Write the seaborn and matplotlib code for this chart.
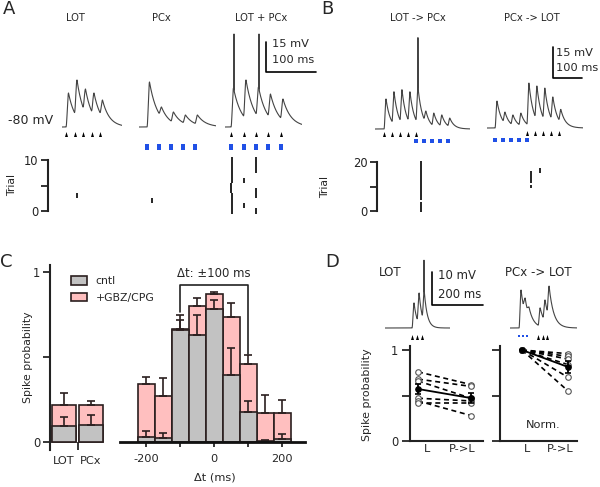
import numpy as np
import pandas as pd
import matplotlib
matplotlib.use('Agg')
import matplotlib.pyplot as plt
import seaborn as sns
from matplotlib.patches import Patch

# ---------------- data ----------------
# A: traces, ms from first stimulus, mV above -80 mV rest
A_LOT_ON = [0, 17, 34, 51, 68]
A_LOT_PK = [17, 23.5, 19, 17, 13.5]
A_PCX_ON = [0, 24, 48, 72, 96]
A_PCX_PK = [22.5, 10, 7.5, 6, 6]
A_BOTH_ON = [0, 25, 50, 74, 99]
A_BOTH_PK = [19.5, 23.5, 20, 16.5, 14]
A_BOTH_SPIKES = [6, 56]
A_SPIKE_MV = 46.5

# A rasters (spike time ms, trial)
A_LOT_RT = [22]
A_LOT_TRIAL = [3]
A_PCX_RT = [10]
A_PCX_TRIAL = [2]
A_BOTH_RT = [2, 2, 2, 2, 0, 0, 2, 2, 2, 2, 2, 26, 26, 50, 50, 50, 50, 50, 50]
A_BOTH_TRIAL = [0, 1, 2, 3, 4, 5, 6, 7, 8, 9, 10, 1, 6, 0, 3, 4, 8, 9, 10]

# B: LOT -> PCx and PCx -> LOT
B_LP_LOT_ON = [0, 27.5, 55, 82.5, 110]
B_LP_PCX_ON = [110, 137.5, 165, 192.5, 220]
B_LP_PK = [14.5, 18, 19, 18, 20.3, 8.7, 7.7, 6.8, 5.3]
B_LP_SPIKES = [117]
B_PL_PCX_ON = [0, 27.5, 55, 82.5, 110]
B_PL_LOT_ON = [110, 137.5, 165, 192.5, 220]
B_PL_PK = [13, 7.7, 6.3, 7.2, 21.7, 20.3, 19.3, 15, 9]
B_SPIKE_MV = 45

B_LP_RT = [128] * 20
B_LP_TRIAL = [0, 1, 2, 3] + list(range(5, 21))
B_PL_RT = [124, 124, 124, 124, 124, 124, 155, 155]
B_PL_TRIAL = [10, 12, 13, 14, 15, 16, 16, 17]

# C: spike probability
SRC = ['LOT', 'PCx']
SRC_CNTL = [0.095, 0.098]
SRC_CNTL_ERR = [0.052, 0.062]
SRC_GBZ = [0.216, 0.216]
SRC_GBZ_ERR = [0.072, 0.025]

DT = [-200, -150, -100, -50, 0, 50, 100, 150, 200]
DT_CNTL = [0.03, 0.024, 0.657, 0.627, 0.78, 0.392, 0.176, 0.006, 0.02]
DT_CNTL_ERR = [0.035, 0.029, 0.063, 0.123, 0.057, 0.161, 0.064, 0.004, 0.025]
DT_GBZ = [0.34, 0.27, 0.667, 0.80, 0.873, 0.735, 0.457, 0.17, 0.17]
DT_GBZ_ERR = [0.04, 0.108, 0.078, 0.047, 0.007, 0.083, 0.057, 0.108, 0.08]

# D: traces
D_LOT_ON = [0, 20, 40]
D_LOT_PK = [7.6, 10.6, 11.2]
D_LOT_SPIKES = [47]
D_SPIKE_MV = 21
D_PL_PCX_ON = [0, 16, 31]
D_PL_LOT_ON = [75, 94, 110]
D_PL_PK = [11.5, 9.1, 6.4, 6.1, 8.5, 12.7]

# D: paired spike probabilities per cell
D_CELL = [1, 2, 3, 4, 5, 6]
D_RAW_L = [0.76, 0.68, 0.66, 0.47, 0.44, 0.42]
D_RAW_PL = [0.62, 0.60, 0.47, 0.44, 0.28, 0.42]
D_NORM_L = [1.0, 1.0, 1.0, 1.0, 1.0, 1.0]
D_NORM_PL = [0.96, 0.93, 0.90, 0.84, 0.70, 0.55]

# ---------------- style ----------------
sns.set_style('white')
plt.rcParams['font.family'] = ['DejaVu Sans']

TRACE_C = '#444444'
BLUE = '#2050e6'
PINK = '#ffbfbf'
GRAY = '#c2c2c2'
EDGE = '#2b1f1f'

W, H = 600, 487
fig = plt.figure(figsize=(6, 4.87), dpi=100)

ARROW = [(-0.6, -1), (0.6, -1), (0, 1)]
TALL = [(-0.55, -1), (0.55, -1), (0.55, 1), (-0.55, 1)]
SQUARE = [(-1, -1), (1, -1), (1, 1), (-1, 1)]


def px_ax(box):
    x0, y0, x1, y1 = box
    return fig.add_axes([x0 / W, 1 - y1 / H, (x1 - x0) / W, (y1 - y0) / H])


def lims(box, xref, pxx, yref, pxy):
    x0, y0, x1, y1 = box
    xl = ((x0 - xref[0]) / pxx + xref[1], (x1 - xref[0]) / pxx + xref[1])
    yl = ((yref[0] - y1) / pxy + yref[1], (yref[0] - y0) / pxy + yref[1])
    return xl, yl


def mapped_ax(box, xref, pxx, yref, pxy):
    ax = px_ax(box)
    xl, yl = lims(box, xref, pxx, yref, pxy)
    ax.set_xlim(xl)
    ax.set_ylim(yl)
    ax.patch.set_visible(False)
    return ax


def ftext(x, y, s, **kw):
    kw.setdefault('ha', 'center')
    kw.setdefault('va', 'center')
    return fig.text(x / W, 1 - y / H, s, **kw)


def psp_trace(t, onsets, peaks, rise, tau):
    v = np.zeros_like(t)
    for i, (t0, pk) in enumerate(zip(onsets, peaks)):
        t1 = onsets[i + 1] if i + 1 < len(onsets) else np.inf
        v0 = 0.0 if i == 0 else peaks[i - 1] * np.exp(-(t0 - onsets[i - 1] - rise) / tau)
        m = (t >= t0) & (t < t1)
        tt = t[m] - t0
        up = v0 + (pk - v0) * np.sin(0.5 * np.pi * np.minimum(tt / rise, 1)) ** 2
        down = pk * np.exp(-(tt - rise) / tau)
        v[m] = np.where(tt < rise, up, down)
    return v


def draw_trace(box, x_stim, base, px_ms, px_mv, onsets, peaks, rise, tau,
               spikes=(), spike_mv=0):
    ax = mapped_ax(box, (x_stim, 0), px_ms, (base, 0), px_mv)
    ax.axis('off')
    t = np.arange(ax.get_xlim()[0], ax.get_xlim()[1], 0.05)
    v = psp_trace(t, onsets, peaks, rise, tau)
    for ts in spikes:
        v = np.maximum(v, spike_mv * np.clip(1 - np.abs(t - ts) / 0.8, 0, None))
    ax.plot(t, v, color=TRACE_C, lw=0.8)
    return ax


def stim_marks(ax, times, y_px, px_mv, marker, ms, color):
    ax.plot(times, [-y_px / px_mv] * len(times), ls='none', marker=marker,
            ms=ms, mew=0, color=color, clip_on=False)


def raster(x0, x1, x_stim, px_ms, times, trials, y_zero, px_trial):
    ax = mapped_ax((x0, 150, x1, 220), (x_stim, 0), px_ms, (y_zero, 0), px_trial)
    ax.axis('off')
    tr = np.array(trials, dtype=float)
    ax.vlines(times, tr - 0.5, tr + 0.5, color='k', lw=1.2)


def trial_axis(x, y_zero, px_trial, top, label_x):
    ax = mapped_ax((x, 150, x + 10, 220), (x, 0), 1, (y_zero, 0), px_trial)
    for s in ['top', 'right', 'bottom']:
        ax.spines[s].set_visible(False)
    ax.spines['left'].set_bounds(0, top)
    ax.spines['left'].set_linewidth(1.5)
    ax.spines['left'].set_color('#222222')
    ax.set_xticks([])
    ax.set_yticks([0, top / 2, top])
    ax.set_yticklabels(['0', '', str(top)])
    ax.tick_params(axis='y', length=5, width=1.3, pad=2, labelsize=8.3,
                   colors='#222222', left=True)
    ftext(label_x, y_zero - top * px_trial / 2, 'Trial', rotation=90, fontsize=7.8)


# ---------------- A ----------------
PX_MS_A, PX_MV_A, BASE_A = 0.5, 2.0, 127
ax = draw_trace((62, 27, 122, 152), 66, BASE_A, PX_MS_A, PX_MV_A,
                A_LOT_ON, A_LOT_PK, 5, 14)
stim_marks(ax, A_LOT_ON, 7, PX_MV_A, ARROW, 3.6, 'k')
ax = draw_trace((139, 27, 216, 152), 147, BASE_A, PX_MS_A, PX_MV_A,
                A_PCX_ON, A_PCX_PK, 5, 16)
stim_marks(ax, A_PCX_ON, 19.5, PX_MV_A, TALL, 4.3, BLUE)
ax = draw_trace((225, 27, 302, 152), 231, BASE_A, PX_MS_A, PX_MV_A,
                A_BOTH_ON, A_BOTH_PK, 5, 16, A_BOTH_SPIKES, A_SPIKE_MV)
stim_marks(ax, A_BOTH_ON, 7, PX_MV_A, ARROW, 3.6, 'k')
stim_marks(ax, A_BOTH_ON, 19.5, PX_MV_A, TALL, 4.3, BLUE)
# scale bar 15 mV / 100 ms
ax.plot([70, 70, 170], [42.5, 27.5, 27.5], color='k', lw=1.2, clip_on=False)
ax.text(81, 41.5, '15 mV', fontsize=8.2, va='center', clip_on=False)
ax.text(81, 33.5, '100 ms', fontsize=8.2, va='center', clip_on=False)

raster(62, 122, 66, PX_MS_A, A_LOT_RT, A_LOT_TRIAL, 211, 5.1)
raster(139, 216, 147, PX_MS_A, A_PCX_RT, A_PCX_TRIAL, 211, 5.1)
raster(225, 302, 231, PX_MS_A, A_BOTH_RT, A_BOTH_TRIAL, 211, 5.1)
trial_axis(48, 211, 5.1, 10, 12)

ftext(75, 18, 'LOT', fontsize=7.2)
ftext(161, 18, 'PCx', fontsize=7.2)
ftext(261, 18, 'LOT + PCx', fontsize=7.2)
ftext(53, 120, '-80 mV', ha='right', fontsize=9)

# ---------------- B ----------------
PX_MS_B, PX_MV_B = 0.29, 2.07
lp_on = sorted(set(B_LP_LOT_ON + B_LP_PCX_ON))
ax = draw_trace((375, 29, 470, 154), 384, 129, PX_MS_B, PX_MV_B,
                lp_on, B_LP_PK, 7, 15, B_LP_SPIKES, B_SPIKE_MV)
stim_marks(ax, B_LP_LOT_ON, 5, PX_MV_B, ARROW, 3.6, 'k')
stim_marks(ax, B_LP_PCX_ON, 12, PX_MV_B, SQUARE, 2.3, BLUE)

pl_on = sorted(set(B_PL_PCX_ON + B_PL_LOT_ON))
ax = draw_trace((487, 28, 583, 153), 495, 128, PX_MS_B, PX_MV_B,
                pl_on, B_PL_PK, 7, 16)
stim_marks(ax, B_PL_LOT_ON, 5, PX_MV_B, ARROW, 3.6, 'k')
stim_marks(ax, B_PL_PCX_ON, 12, PX_MV_B, SQUARE, 2.3, BLUE)
ax.plot([200, 200, 300], [39.2, 24.2, 24.2], color='k', lw=1.2, clip_on=False)
ax.text(210, 36.2, '15 mV', fontsize=8.2, va='center', clip_on=False)
ax.text(210, 29, '100 ms', fontsize=8.2, va='center', clip_on=False)

raster(375, 470, 384, PX_MS_B, B_LP_RT, B_LP_TRIAL, 211, 2.45)
raster(487, 583, 495, PX_MS_B, B_PL_RT, B_PL_TRIAL, 211, 2.45)
trial_axis(377, 211, 2.45, 20, 325)

ftext(418, 18, 'LOT -> PCx', fontsize=7.2)
ftext(532, 18, 'PCx -> LOT', fontsize=7.2)

# ---------------- C ----------------
PX_P = 170
box_l = (50, 265, 105, 450)
axl = px_ax(box_l)
sns.barplot(x=SRC, y=SRC_GBZ, color=PINK, saturation=1, width=0.89,
            edgecolor=EDGE, linewidth=1.2, errorbar=None, ax=axl, zorder=1)
axl.errorbar([0, 1], SRC_GBZ, yerr=[np.zeros(2), SRC_GBZ_ERR], fmt='none',
             ecolor=EDGE, elinewidth=1.2, capsize=2.9, capthick=1.2, zorder=2)
sns.barplot(x=SRC, y=SRC_CNTL, color=GRAY, saturation=1, width=0.89,
            edgecolor=EDGE, linewidth=1.2, errorbar=None, ax=axl, zorder=3)
axl.errorbar([0, 1], SRC_CNTL, yerr=[np.zeros(2), SRC_CNTL_ERR], fmt='none',
             ecolor=EDGE, elinewidth=1.2, capsize=2.9, capthick=1.2, zorder=4)
xl, yl = lims(box_l, (64, 0), 27, (442, 0), PX_P)
axl.set_xlim(xl)
axl.set_ylim(yl)
axl.set(xlabel='', ylabel='')
for s in ['top', 'right', 'bottom']:
    axl.spines[s].set_visible(False)
axl.spines['left'].set_linewidth(1.5)
axl.spines['left'].set_color('#222222')
axl.set_yticks([0, 0.5, 1])
axl.set_yticklabels(['0', '', '1'])
axl.tick_params(axis='y', length=5, width=1.3, pad=2, labelsize=8.3, left=True)
axl.set_xticks([0, 1])
axl.set_xticklabels(SRC)
axl.set_xticks([0.5], minor=True)
axl.tick_params(axis='x', which='major', length=0, pad=4.5, labelsize=8.2)
axl.tick_params(axis='x', which='minor', length=5.8, width=1.3, direction='in',
                bottom=True)
axl.patch.set_visible(False)
ftext(28, 357, 'Spike probability', rotation=90, fontsize=7.8)

box_r = (120, 265, 305, 450)
axr = px_ax(box_r)
sns.barplot(x=DT, y=DT_GBZ, native_scale=True, color=PINK, saturation=1, width=1,
            edgecolor=EDGE, linewidth=1.2, errorbar=None, ax=axr, zorder=1)
axr.errorbar(DT, DT_GBZ, yerr=[np.zeros(len(DT)), DT_GBZ_ERR], fmt='none',
             ecolor=EDGE, elinewidth=1.2, capsize=2.9, capthick=1.2, zorder=2)
sns.barplot(x=DT, y=DT_CNTL, native_scale=True, color=GRAY, saturation=1, width=1,
            edgecolor=EDGE, linewidth=1.2, errorbar=None, ax=axr, zorder=3)
axr.errorbar(DT, DT_CNTL, yerr=[np.zeros(len(DT)), DT_CNTL_ERR], fmt='none',
             ecolor=EDGE, elinewidth=1.2, capsize=2.9, capthick=1.2, zorder=4)
xl, yl = lims(box_r, (214, 0), 0.34, (442, 0), PX_P)
axr.set_xlim(xl)
axr.set_ylim(yl)
axr.set(xlabel='', ylabel='')
for s in ['top', 'right', 'left']:
    axr.spines[s].set_visible(False)
axr.spines['bottom'].set_position(('data', 0))
axr.spines['bottom'].set_linewidth(2)
axr.spines['bottom'].set_color('#111111')
axr.spines['bottom'].set_zorder(5)
axr.set_yticks([])
axr.set_xticks([-200, -100, 0, 100, 200])
axr.set_xticklabels(['-200', '', '0', '', '200'])
axr.tick_params(axis='x', length=3.8, width=1.3, pad=5, labelsize=8.2, bottom=True)
axr.patch.set_visible(False)
ftext(215, 478, 'Δt (ms)', fontsize=8.2)

# bracket for the +-100 ms window
axr.plot([-100, -100, 100, 100], [0.765, 0.924, 0.924, 0.52], color='#222222',
         lw=1.2, zorder=6)
axr.text(0, 0.99, 'Δt: ±100 ms', ha='center', va='center', fontsize=8.4)

fig.legend([Patch(facecolor=GRAY, edgecolor=EDGE, lw=1.2),
            Patch(facecolor=PINK, edgecolor=EDGE, lw=1.2)],
           ['cntl', '+GBZ/CPG'], loc='upper left',
           bbox_to_anchor=(71 / W, 1 - 276 / H), frameon=False, fontsize=7.8,
           handlelength=1.5, handleheight=0.85, handletextpad=0.75,
           labelspacing=0.6, borderpad=0, borderaxespad=0)

# ---------------- D ----------------
PX_MS_D, PX_MV_D = 0.255, 3.3
ax = draw_trace((385, 253, 450, 348), 412, 328, PX_MS_D, PX_MV_D,
                D_LOT_ON, D_LOT_PK, 8, 12, D_LOT_SPIKES, D_SPIKE_MV)
stim_marks(ax, D_LOT_ON, 9, PX_MV_D, ARROW, 3.6, 'k')
ax.plot([78.4, 78.4, 278.4], [17, 7, 7], color='k', lw=1.2, clip_on=False)
ax.text(101, 16, '10 mV', fontsize=8.4, va='center', clip_on=False)
ax.text(101, 10.3, '200 ms', fontsize=8.4, va='center', clip_on=False)

ax = draw_trace((510, 253, 577, 348), 519, 328, PX_MS_D, PX_MV_D,
                D_PL_PCX_ON + D_PL_LOT_ON, D_PL_PK, 8, 18)
stim_marks(ax, D_PL_LOT_ON, 9, PX_MV_D, ARROW, 3.6, 'k')
stim_marks(ax, D_PL_PCX_ON, 8, PX_MV_D, SQUARE, 2.1, BLUE)

ftext(390, 273, 'LOT', fontsize=8.5)
ftext(538, 273, 'PCx -> LOT', fontsize=8.5)


def pair_panel(box, x_l, px_x, vals_l, vals_pl, tick_px, ylabels):
    ax = px_ax(box)
    df = pd.DataFrame({'cell': D_CELL * 2,
                       'x': [0] * len(D_CELL) + [1] * len(D_CELL),
                       'p': list(vals_l) + list(vals_pl)})
    sns.lineplot(data=df, x='x', y='p', units='cell', estimator=None, color='k',
                 lw=1.2, linestyle=(0, (3, 2.2)), ax=ax, zorder=2)
    sns.scatterplot(data=df, x='x', y='p', marker='o', s=16, facecolor='white',
                    edgecolor='#555555', linewidth=0.8, ax=ax, zorder=3)
    means = [np.mean(vals_l), np.mean(vals_pl)]
    sems = [np.std(vals_l, ddof=1) / np.sqrt(len(vals_l)),
            np.std(vals_pl, ddof=1) / np.sqrt(len(vals_pl))]
    ax.errorbar([0, 1], means, yerr=sems, color='k', lw=1.3, marker='o', ms=3.8,
                capsize=2.2, capthick=1.2, zorder=4)
    xl, yl = lims(box, (x_l, 0), px_x, (441, 0), 91)
    ax.set_xlim(xl)
    ax.set_ylim(yl)
    ax.set(xlabel='', ylabel='')
    for s in ['top', 'right']:
        ax.spines[s].set_visible(False)
    for s in ['left', 'bottom']:
        ax.spines[s].set_linewidth(1.5)
        ax.spines[s].set_color('#222222')
    ax.set_yticks([0, 0.5, 1])
    ax.set_yticklabels(ylabels)
    ax.tick_params(axis='y', length=5.5, width=1.3, pad=3, labelsize=8.3, left=True)
    ax.set_xticks([(tick_px[0] - x_l) / px_x, (tick_px[1] - x_l) / px_x])
    ax.set_xticklabels(['L', 'P->L'])
    ax.tick_params(axis='x', length=0, pad=2, labelsize=8.2)
    ax.patch.set_visible(False)
    return ax


pair_panel((410, 346, 483, 441), 418, 53, D_RAW_L, D_RAW_PL, (427, 462),
           ['0', '', '1'])
pair_panel((500, 346, 577, 441), 522, 46, D_NORM_L, D_NORM_PL, (527, 560),
           ['', '', ''])
ftext(367, 395, 'Spike probability', rotation=90, fontsize=7.9)
ftext(543, 425, 'Norm.', fontsize=8.2)

# panel letters
for letter, (x, y) in zip('ABCD', [(9, 9), (327, 9), (6, 262), (332, 262)]):
    ftext(x, y, letter, fontsize=13)

fig.savefig('out.png', dpi=100)
